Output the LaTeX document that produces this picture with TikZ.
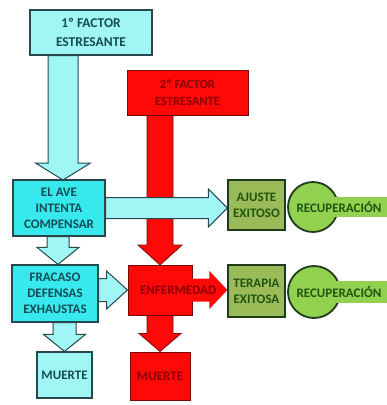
\documentclass[tikz,border=0pt]{standalone}
\usepackage{fontspec}
\setmainfont{Carlito}
\usetikzlibrary{calc}

\definecolor{cyanpale}{RGB}{160,245,245}
\definecolor{cyanbox}{RGB}{55,232,236}
\definecolor{cyanline}{RGB}{40,72,78}
\definecolor{cyantext}{RGB}{20,75,85}
\definecolor{redfill}{RGB}{255,8,8}
\definecolor{redline}{RGB}{120,10,10}
\definecolor{redtext}{RGB}{140,0,0}
\definecolor{greenbox}{RGB}{155,187,89}
\definecolor{greenlight}{RGB}{146,208,80}
\definecolor{greenline}{RGB}{30,60,25}
\definecolor{greentext}{RGB}{30,85,15}

% block arrow: style, from, to, half shaft, half head, head length
\newcommand{\blockarrow}[6]{%
  \coordinate (bh) at ($(#3)!#6!(#2)$);
  \draw[#1] ($(#2)!#4!90:(#3)$) -- ($(bh)!#4!90:(#3)$) -- ($(bh)!#5!90:(#3)$)
    -- (#3) -- ($(bh)!#5!-90:(#3)$) -- ($(bh)!#4!-90:(#3)$)
    -- ($(#2)!#4!-90:(#3)$) -- cycle;}

\begin{document}
\begin{tikzpicture}[
    x=1pt, y=-1pt,
    txt/.style={font=\fontsize{13}{16}\selectfont\bfseries, align=center},
    cbox/.style={txt, draw=cyanline, line width=1.2pt, fill=cyanbox,
                 text=cyantext, inner sep=0pt},
    rbox/.style={txt, draw=redline, line width=1pt, fill=redfill,
                 text=redtext, inner sep=0pt},
    gbox/.style={txt, draw=greenline, line width=1.2pt, fill=greenbox,
                 text=greentext, inner sep=0pt},
    recup/.style={circle, draw=greenline, line width=1.8pt, fill=greenlight,
                  minimum size=50pt, inner sep=0pt},
    carrow/.style={draw=cyanline, line width=1pt, fill=cyanpale},
    rarrow/.style={draw=redline, line width=0.8pt, fill=redfill},
]
    \useasboundingbox[fill=white] (0,0) rectangle (387,405);

    %==================== stressors ====================
    \node[cbox, fill=cyanpale, minimum width=122pt, minimum height=45pt,
          font=\fontsize{13.5}{19}\selectfont\bfseries] (f1) at (91,32.5)
        {1º FACTOR\\ESTRESANTE};
    \node[rbox, minimum width=121pt, minimum height=45pt,
          font=\fontsize{12.5}{17}\selectfont\bfseries] (f2) at (187.5,92.5)
        {2º FACTOR\\ESTRESANTE};

    %==================== main nodes (positions) ====================
    \coordinate (stem1) at (63,0);
    \coordinate (edge) at (387,0);
    \path (59,208) coordinate (pave)
          (55,293.5) coordinate (pfra)
          (160,290) coordinate (penf);

    % red stressor arrow, passes under the cyan one
    \blockarrow{rarrow}{f2.south -| penf}{penf |- 0,265}{13pt}{22pt}{20pt}
    \blockarrow{carrow}{f1.south -| stem1}{stem1 |- 0,180}{15pt}{27.5pt}{17pt}

    \node[cbox, minimum width=92pt, minimum height=56pt] (ave) at (pave)
        {EL AVE\\INTENTA\\COMPENSAR};
    \node[gbox, minimum width=57pt, minimum height=50pt] (ajuste) at (256.5,205)
        {AJUSTE\\EXITOSO};
    \blockarrow{carrow}{ave.east}{ave.east -| ajuste.west}{10.5pt}{19pt}{19pt}

    %==================== failure / disease ====================
    \node[cbox, minimum width=86pt, minimum height=57pt] (fracaso) at (pfra)
        {FRACASO\\DEFENSAS\\EXHAUSTAS};
    \blockarrow{carrow}{ave.south -| 58,0}{fracaso.north -| 58,0}{11pt}{21pt}{17pt}

    \node[rbox, minimum width=64pt, minimum height=50pt] (enf) at (penf) {};
    \node[gbox, minimum width=57pt, minimum height=52pt] (terapia) at (256.5,291)
        {TERAPIA\\EXITOSA};
    \blockarrow{rarrow, draw=none}{enf.center}{enf.center -| terapia.west}{11.5pt}{19pt}{18pt}
    \node[txt, text=redtext, anchor=west] at ([xshift=9pt]enf.west) {ENFERMEDAD};
    \blockarrow{carrow}{fracaso.east |- enf.west}{enf.west}{11.5pt}{19pt}{21pt}

    %==================== outcomes ====================
    \node[cbox, fill=cyanpale, minimum width=55pt, minimum height=46pt] (m1) at (64.5,375)
        {MUERTE};
    \node[rbox, minimum width=60pt, minimum height=48pt] (m2) at (160,376)
        {MUERTE};
    \blockarrow{carrow}{fracaso.south -| m1.north}{m1.north}{11.5pt}{21pt}{17pt}
    \blockarrow{rarrow}{enf.south}{m2.north}{13pt}{21pt}{18pt}

    %==================== recovery ====================
    \node[recup] (rec1) at (313,207) {};
    \fill[greenlight] ([yshift=10pt]rec1.center) rectangle ([yshift=-10pt]rec1.center -| edge);
    \node[txt, text=greentext, anchor=west] at ([xshift=-20pt]rec1.center) {RECUPERACIÓN};

    \node[recup, minimum size=52pt] (rec2) at (314,292) {};
    \fill[greenlight] ([yshift=11pt]rec2.center) rectangle ([yshift=-11pt]rec2.center -| edge);
    \node[txt, text=greentext, anchor=west] at ([xshift=-21pt]rec2.center) {RECUPERACIÓN};

\end{tikzpicture}
\end{document}
